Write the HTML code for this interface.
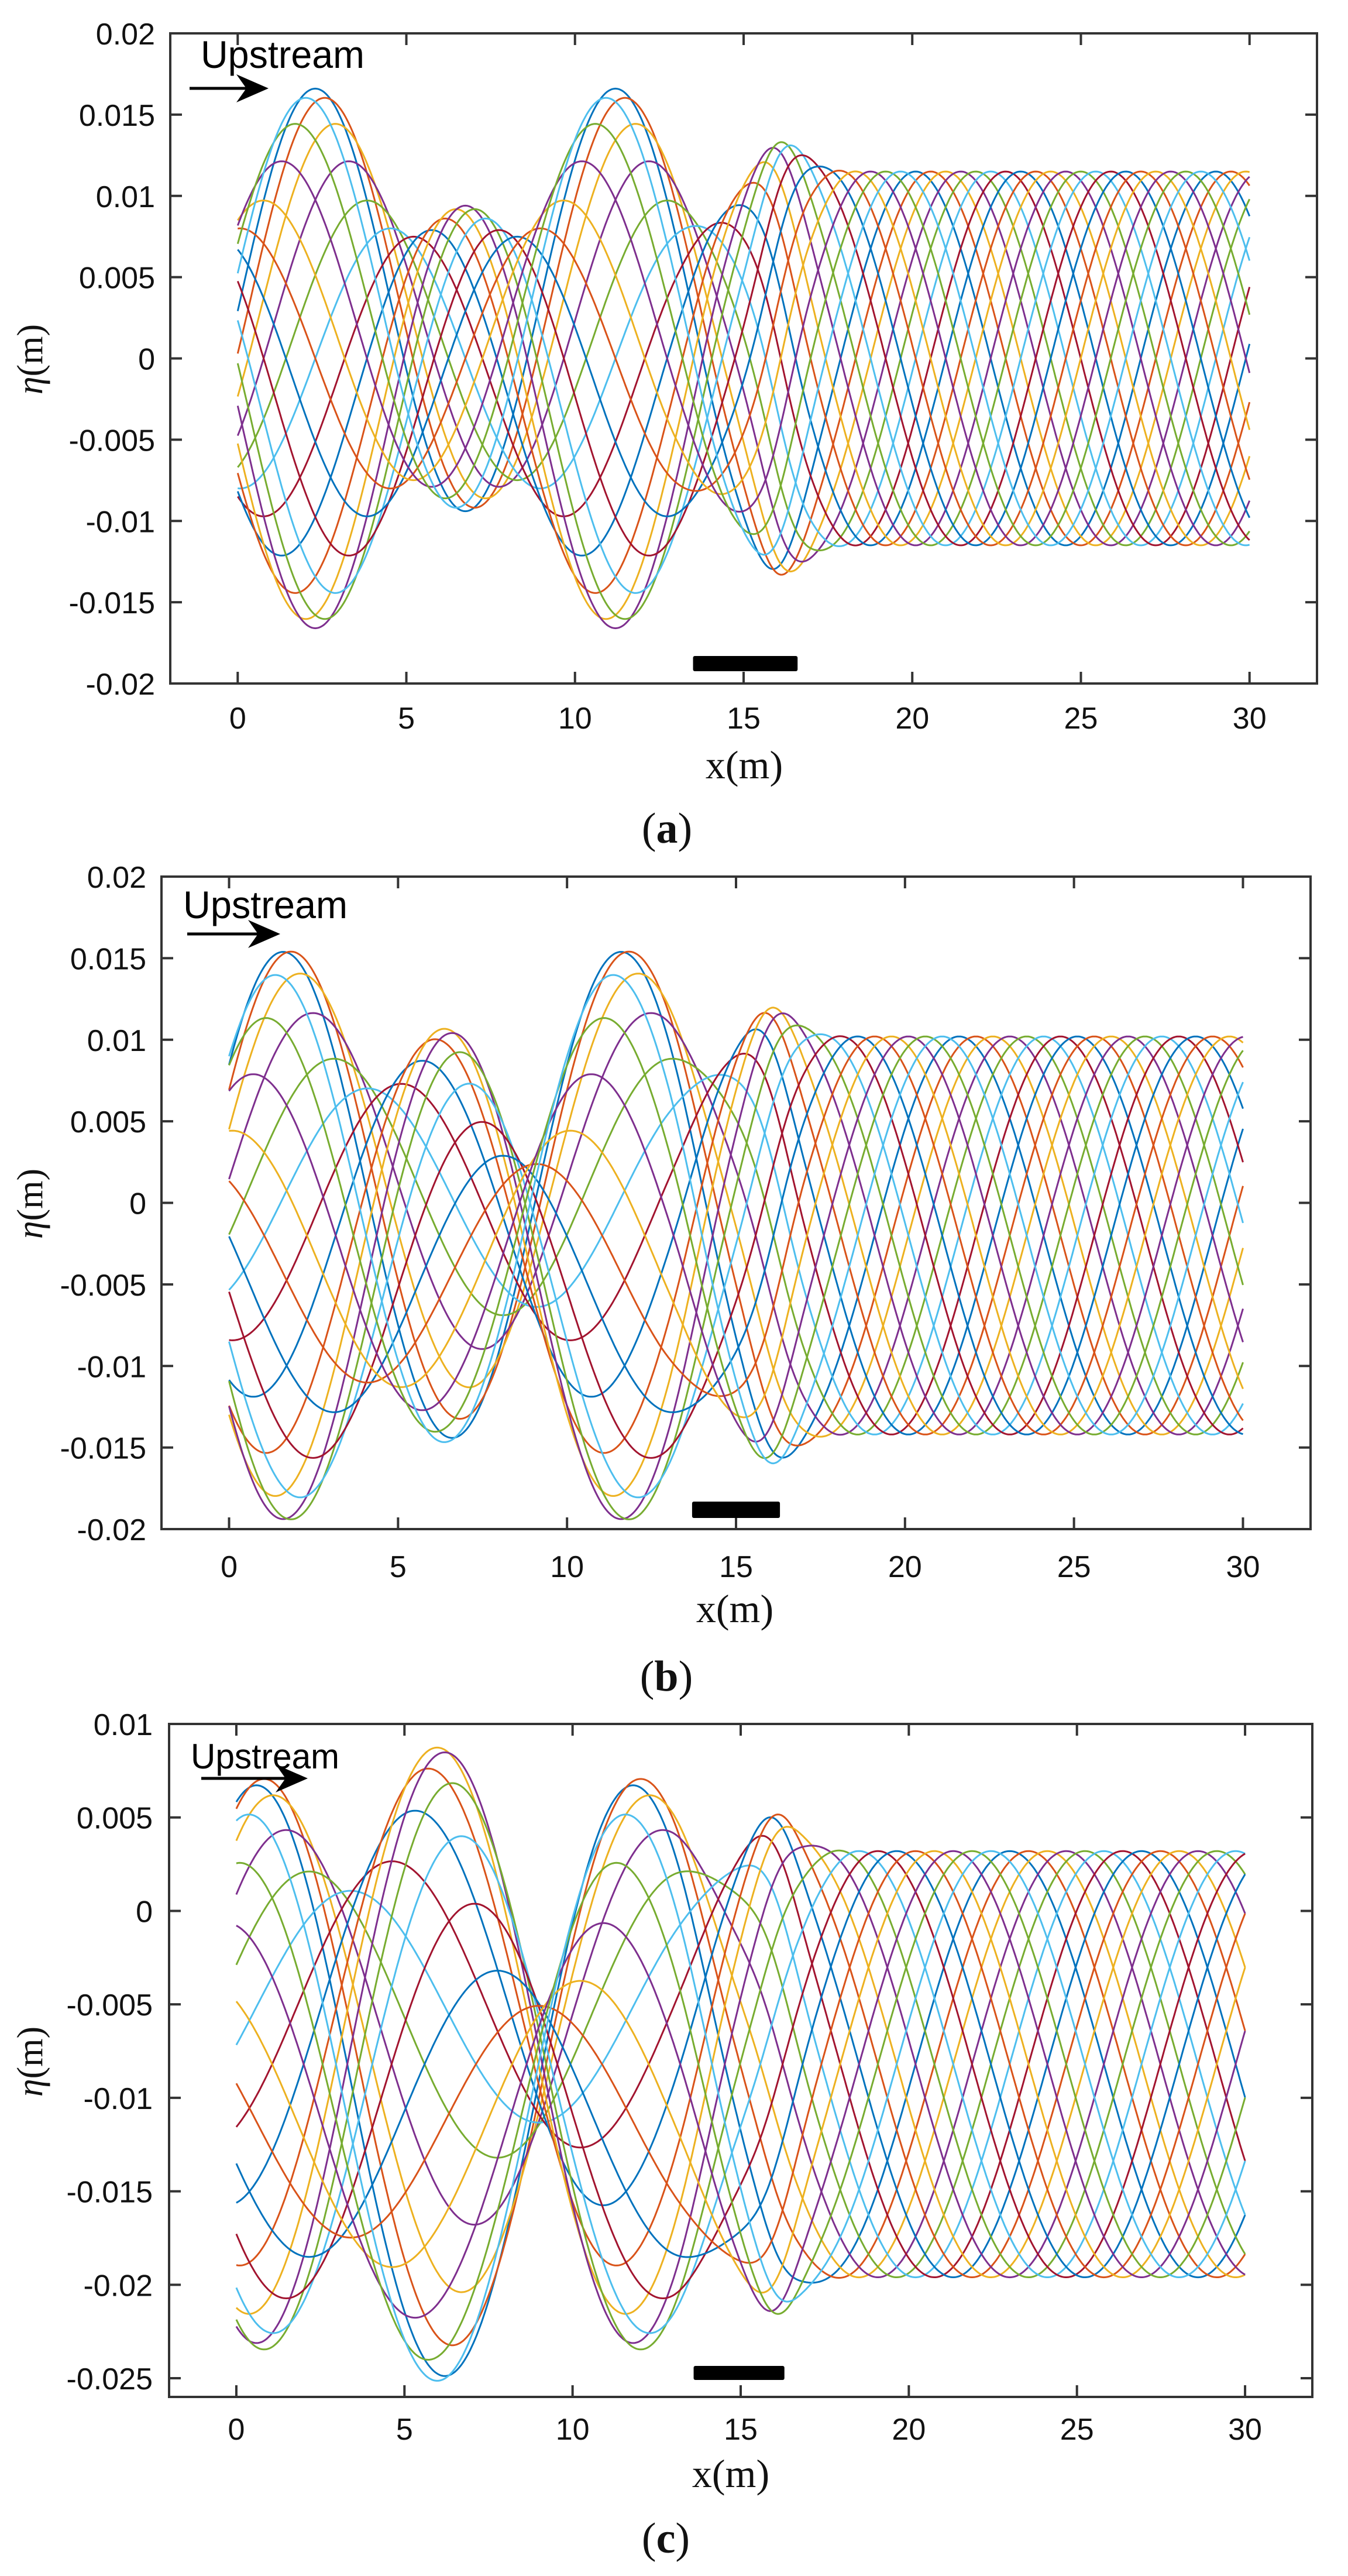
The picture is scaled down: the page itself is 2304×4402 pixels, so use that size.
<!DOCTYPE html>
<html><head><meta charset="utf-8">
<style>
html,body{margin:0;padding:0;background:#fff;}
svg{display:block;}
.tk{font-family:"Liberation Sans",Arial,sans-serif;font-size:52px;fill:#111;}
.up{font-family:"Liberation Sans",Arial,sans-serif;fill:#000;}
.ser{font-family:"Liberation Serif","Times New Roman",serif;fill:#111;}
</style></head>
<body>
<svg id="s" width="2304" height="4402" viewBox="0 0 2304 4402" xmlns="http://www.w3.org/2000/svg">
<rect width="2304" height="4402" fill="#fff"/>
<g id="curves"></g>
<g id="axes" fill="none" stroke="#333" stroke-width="4"></g>
<g id="labels"></g>
<text class="up" x="343" y="116" font-size="66" textLength="280" lengthAdjust="spacingAndGlyphs">Upstream</text>
<text class="up" x="313" y="1569" font-size="66" textLength="281" lengthAdjust="spacingAndGlyphs">Upstream</text>
<text class="up" x="326" y="3022" font-size="60" textLength="254" lengthAdjust="spacingAndGlyphs">Upstream</text>
<text class="ser" x="1272" y="1330" font-size="68" text-anchor="middle">x(m)</text>
<text class="ser" x="1256" y="2772" font-size="68" text-anchor="middle">x(m)</text>
<text class="ser" x="1249" y="4250" font-size="68" text-anchor="middle">x(m)</text>
<text class="ser" x="1140" y="1440" font-size="74" text-anchor="middle">(<tspan font-weight="bold">a</tspan>)</text>
<text class="ser" x="1139" y="2889" font-size="74" text-anchor="middle">(<tspan font-weight="bold">b</tspan>)</text>
<text class="ser" x="1138" y="4362" font-size="74" text-anchor="middle">(<tspan font-weight="bold">c</tspan>)</text>
<text class="ser" font-size="62" text-anchor="middle" transform="translate(72,614) rotate(-90)"><tspan font-style="italic">η</tspan>(m)</text>
<text class="ser" font-size="62" text-anchor="middle" transform="translate(72,2057) rotate(-90)"><tspan font-style="italic">η</tspan>(m)</text>
<text class="ser" font-size="62" text-anchor="middle" transform="translate(72,3523) rotate(-90)"><tspan font-style="italic">η</tspan>(m)</text>
</svg>
<script>
(function(){
var NS="http://www.w3.org/2000/svg";
var cg=document.getElementById('curves'),ag=document.getElementById('axes'),lg=document.getElementById('labels');
var svg=document.getElementById('s');
function el(t,a,p){var e=document.createElementNS(NS,t);for(var k in a)e.setAttribute(k,a[k]);(p||svg).appendChild(e);return e;}
var cols=['#0072BD','#D95319','#EDB120','#7E2F8E','#77AC30','#4DBEEE','#A2142F'];
var P=[
 {L:291,R:2251,T:57,B:1168,y0:-0.02,y1:0.02,ticks:[0.02,0.015,0.01,0.005,0,-0.005,-0.01,-0.015,-0.02],
  tl:["0.02","0.015","0.01","0.005","0","-0.005","-0.01","-0.015","-0.02"],lx:265,xly:1245,
  lam:8.9,xm:2.3,ai:0.0105,ar:0.0025,a3:0.0036,psi:0,off:0,at:0.0115,bump:0.22,
  bar:[13.5,16.6,1121,1147],arr:[324,459,151]},
 {L:276,R:2240,T:1498,B:2613,y0:-0.02,y1:0.02,ticks:[0.02,0.015,0.01,0.005,0,-0.005,-0.01,-0.015,-0.02],
  tl:["0.02","0.015","0.01","0.005","0","-0.005","-0.01","-0.015","-0.02"],lx:250,xly:2695,
  lam:10,xm:1.6,ai:0.0108,ar:0.0041,a3:0.0034,psi:0.75,off:-0.002,at:0.0122,bump:0.17,
  bar:[13.7,16.3,2566,2594],arr:[320,479,1596]},
 {L:289,R:2243,T:2946,B:4096,y0:-0.026,y1:0.01,ticks:[0.01,0.005,0,-0.005,-0.01,-0.015,-0.02,-0.025],
  tl:["0.01","0.005","0","-0.005","-0.01","-0.015","-0.02","-0.025"],lx:261,xly:4169,
  lam:11.2,xm:0.6,ai:0.0110,ar:0.0048,a3:0.0032,psi:1.85,off:-0.0082,at:0.0114,bump:0.17,
  bar:[13.6,16.3,4043,4067],arr:[344,526,3039]}
];
P.forEach(function(p){
 function X(x){return p.L+(x+2)/34*(p.R-p.L);}
 function Y(v){return p.B-(v-p.y0)/(p.y1-p.y0)*(p.B-p.T);}
 var k=2*Math.PI/p.lam,N=20;
 var pts=[];
 for(var x=0;x<=30.0001;x+=0.05){
  var ph=k*(x-p.xm);
  var ur=p.ai*Math.cos(ph)+p.ar*Math.cos(-ph)+p.a3*Math.cos(p.psi);
  var ui=p.ai*Math.sin(ph)+p.ar*Math.sin(-ph)+p.a3*Math.sin(p.psi);
  var amp=p.at*(1+p.bump*Math.exp(-Math.pow((x-15.9)/1.0,2)));
  var dr=amp*Math.cos(ph),di=amp*Math.sin(ph);
  var t=Math.min(1,Math.max(0,(x-13)/4));t=t*t*(3-2*t);
  pts.push([x,(1-t)*ur+t*dr,(1-t)*ui+t*di]);
 }
 for(var j=0;j<N;j++){
  var th=2*Math.PI*j/N,c=Math.cos(th),s=Math.sin(th),d='';
  for(var i=0;i<pts.length;i++){
   var v=pts[i][1]*c+pts[i][2]*s+p.off;
   d+=(i?'L':'M')+X(pts[i][0]).toFixed(1)+','+Y(v).toFixed(1);
  }
  el('path',{d:d,fill:'none',stroke:cols[j%7],'stroke-width':3},cg);
 }
 el('rect',{x:X(p.bar[0]),y:p.bar[2],width:X(p.bar[1])-X(p.bar[0]),height:p.bar[3]-p.bar[2],fill:'#000',rx:3},lg);
 el('rect',{x:p.L,y:p.T,width:p.R-p.L,height:p.B-p.T},ag);
 for(var xv=0;xv<=30;xv+=5){
  var xx=X(xv);
  el('line',{x1:xx,y1:p.B,x2:xx,y2:p.B-20},ag);
  el('line',{x1:xx,y1:p.T,x2:xx,y2:p.T+20},ag);
  var tx=el('text',{x:xx,y:p.xly,'class':'tk','text-anchor':'middle'},lg);tx.textContent=String(xv);
 }
 p.ticks.forEach(function(v,i){
  var yy=Y(v);
  el('line',{x1:p.L,y1:yy,x2:p.L+20,y2:yy},ag);
  el('line',{x1:p.R,y1:yy,x2:p.R-20,y2:yy},ag);
  var tx=el('text',{x:p.lx,y:yy+19,'class':'tk','text-anchor':'end'},lg);tx.textContent=p.tl[i];
 });
 var a=p.arr;
 el('line',{x1:a[0],y1:a[2],x2:a[1]-30,y2:a[2],stroke:'#000','stroke-width':5},lg);
 el('path',{d:'M'+a[1]+','+a[2]+' L'+(a[1]-55)+','+(a[2]-24)+' L'+(a[1]-38)+','+a[2]+' L'+(a[1]-55)+','+(a[2]+24)+' Z',fill:'#000'},lg);
});
})();
</script>
</body></html>
